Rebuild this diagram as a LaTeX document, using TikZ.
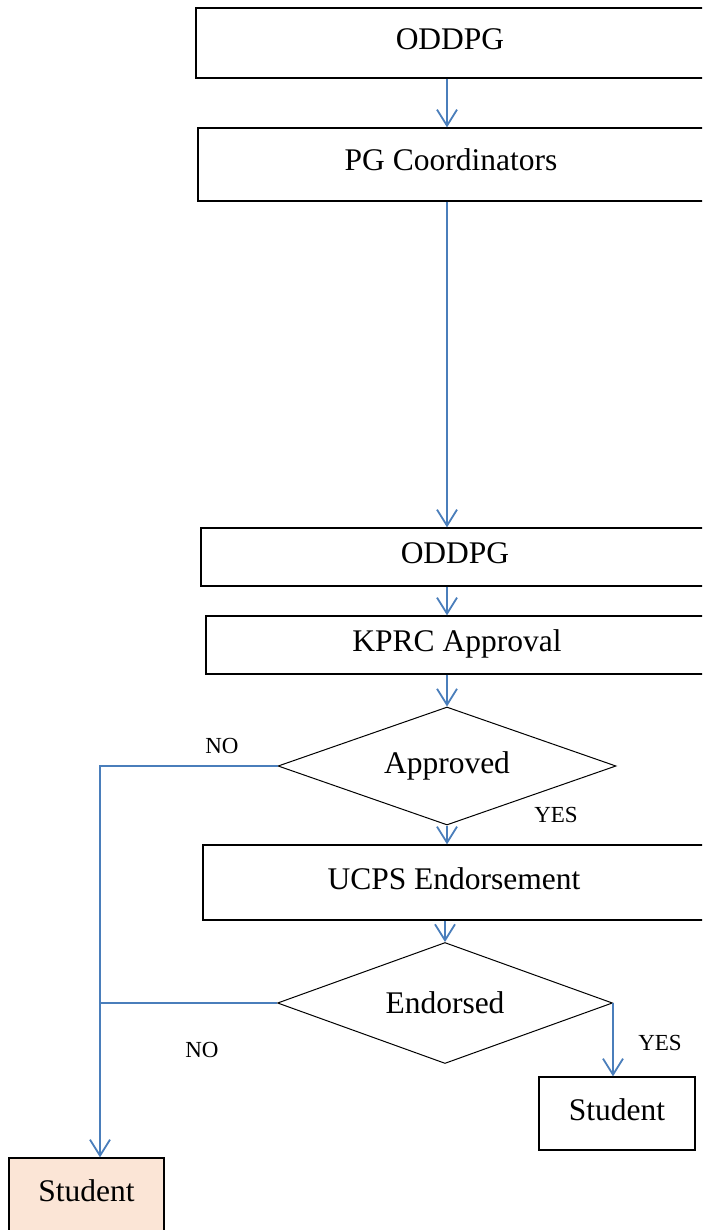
\documentclass[tikz,border=0pt]{standalone}
\usepackage{fontspec}
\setmainfont{Liberation Serif}
\usetikzlibrary{shapes.geometric,arrows.meta}
\definecolor{flowblue}{RGB}{74,126,187}
\definecolor{peach}{RGB}{251,229,214}
\tikzset{
	box/.style={draw, line width=1.3pt, inner sep=0pt, font=\fontsize{31.5}{36}\selectfont, text height=22pt, text depth=9pt},
	decision/.style={diamond, aspect=2.8, draw, line width=1pt, inner sep=0pt, font=\fontsize{31.5}{36}\selectfont},
	flow/.style={flowblue, line width=1.8pt},
	arr/.style={flow, -{Straight Barb[length=16pt,width=20pt,line width=1.8pt]}},
	tag/.style={font=\fontsize{23}{26}\selectfont}
}
\begin{document}
\begin{tikzpicture}[x=1pt, y=-1pt]
		\useasboundingbox (0,0) rectangle (702,1230);
		\clip (0,0) rectangle (702,1230);
		
		\node[box, minimum width=508pt, minimum height=70pt] (oddpgA) at (450,43) {ODDPG};
		\node[box, minimum width=506pt, minimum height=73pt] (pgc) at (451,164.5) {PG Coordinators};
		\node[box, minimum width=508pt, minimum height=58pt] (oddpgB) at (455,557) {ODDPG};
		\node[box, minimum width=502pt, minimum height=58pt] (kprc) at (457,645) {KPRC Approval};
		\node[decision, minimum width=338pt, minimum height=118pt] (approved) at (447,766) {Approved};
		\node[box, minimum width=502pt, minimum height=75pt] (ucps) at (454,882.5) {UCPS Endorsement};
		\node[decision, minimum width=335pt, minimum height=121pt] (endorsed) at (445,1003) {Endorsed};
		\node[box, minimum width=156pt, minimum height=73pt] (studentR) at (617,1113.5) {Student};
		\node[box, fill=peach, minimum width=155pt, minimum height=73pt] (studentL) at (86.5,1194.5) {Student};
		
		\node[tag] (noA) at (222,746) {NO};
		\node[tag] (yesA) at (556,815) {YES};
		\node[tag] (noB) at (202,1050) {NO};
		\node[tag] (yesB) at (660,1043) {YES};
		
		\coordinate (join) at (100,766);
		
		\foreach \from/\to in {oddpgA/pgc,pgc/oddpgB,oddpgB/kprc,kprc/approved,approved/ucps}
		\draw[arr] (\from.south -| approved) -- (\to.north -| approved);
		\draw[arr] (ucps.south -| endorsed) -- (endorsed.north);
		
		\draw[arr] (approved.west) -- (join) -- (join |- studentL.north);
		\draw[flow] (endorsed.west) -- (endorsed.west -| join);
		\draw[arr] (endorsed.east) -- (endorsed.east |- studentR.north);
		\end{tikzpicture}
\end{document}
